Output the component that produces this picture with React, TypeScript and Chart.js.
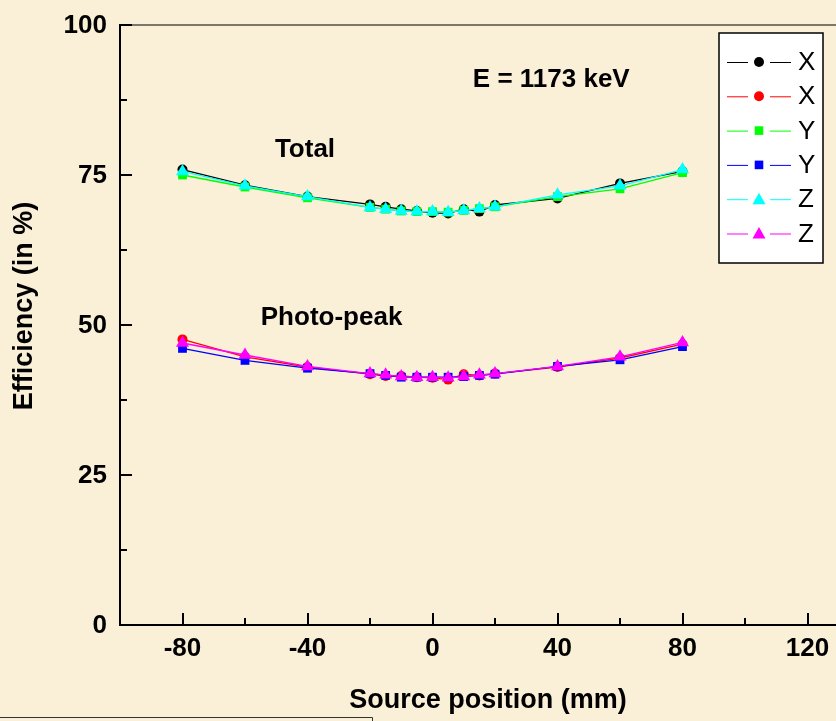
import { useEffect, useRef } from "react";
import { Chart, registerables } from "chart.js";

Chart.register(...registerables);

// Source positions along the detector axis (mm)
const positions = [-80, -60, -40, -20, -15, -10, -5, 0, 5, 10, 15, 20, 40, 60, 80];

// Total efficiency (%) for scans along X, Y and Z
const totalX = [75.9, 73.3, 71.4, 70.1, 69.7, 69.3, 69.0, 68.7, 68.6, 69.3, 68.9, 70.0, 71.1, 73.6, 75.6];
const totalY = [75.0, 73.0, 71.2, 69.6, 69.3, 69.0, 68.9, 68.9, 68.8, 69.1, 69.4, 69.7, 71.4, 72.7, 75.4];
const totalZ = [75.6, 73.2, 71.4, 69.6, 69.3, 69.0, 68.9, 68.9, 68.8, 69.1, 69.4, 69.7, 71.7, 73.2, 75.9];

// Photo-peak efficiency (%) for scans along X, Y and Z
const photoX = [47.6, 44.7, 43.0, 41.8, 41.5, 41.5, 41.3, 41.2, 40.9, 41.8, 41.6, 41.9, 43.0, 44.5, 46.8];
const photoY = [46.1, 44.1, 42.8, 41.9, 41.6, 41.3, 41.3, 41.3, 41.3, 41.4, 41.6, 41.8, 43.1, 44.2, 46.4];
const photoZ = [47.0, 45.0, 43.1, 41.9, 41.7, 41.4, 41.3, 41.3, 41.2, 41.4, 41.7, 41.9, 43.1, 44.7, 47.1];

// Axis ticks
const xMajorTicks = [-80, -40, 0, 40, 80, 120];
const xMinorTicks = [-60, -20, 20, 60, 100];
const yMajorTicks = [0, 25, 50, 75, 100];
const yMinorTicks = [12.5, 37.5, 62.5, 87.5];

// Legend entries (label, colour, marker)
const legendLabels = ["X", "X", "Y", "Y", "Z", "Z"];
const legendColors = ["#000000", "#ff0000", "#00ff00", "#0000ff", "#00ffff", "#ff00ff"];
const legendMarkers = ["circle", "circle", "rect", "rect", "triangle", "triangle"];

const FONT = '"Liberation Sans", Arial, Helvetica, sans-serif';
const BG = "#faefd7";

function toPoints(values: number[]) {
  return positions.map((x, i) => ({ x, y: values[i] }));
}

function makeSet(label: string, values: number[], color: string, marker: string, order: number) {
  const radius = marker === "circle" ? 5 : marker === "rect" ? 6.2 : 7.5;
  return {
    label,
    data: toPoints(values),
    borderColor: color,
    backgroundColor: color,
    borderWidth: 1.3,
    pointStyle: marker,
    pointRadius: radius,
    pointBackgroundColor: color,
    pointBorderColor: color,
    pointBorderWidth: 0,
    tension: 0,
    order,
  };
}

function drawMarker(ctx: CanvasRenderingContext2D, kind: string, x: number, y: number, color: string) {
  ctx.fillStyle = color;
  ctx.beginPath();
  if (kind === "circle") {
    ctx.arc(x, y, 5, 0, Math.PI * 2);
  } else if (kind === "rect") {
    ctx.rect(x - 4.3, y - 4.3, 8.6, 8.6);
  } else {
    ctx.moveTo(x, y - 6.5);
    ctx.lineTo(x + 6.5, y + 5);
    ctx.lineTo(x - 6.5, y + 5);
    ctx.closePath();
  }
  ctx.fill();
}

const framePlugin = {
  id: "frame",
  beforeDraw(chart: any) {
    const ctx = chart.ctx as CanvasRenderingContext2D;
    ctx.save();
    ctx.fillStyle = BG;
    ctx.fillRect(0, 0, chart.width, chart.height);
    ctx.restore();
  },
  afterDraw(chart: any) {
    const ctx = chart.ctx as CanvasRenderingContext2D;
    const xs = chart.scales.x;
    const ys = chart.scales.y;
    const { left, right, top, bottom } = chart.chartArea;
    ctx.save();

    // frame: top border and the two axes
    ctx.strokeStyle = "#000";
    ctx.lineWidth = 1.2;
    ctx.beginPath();
    ctx.moveTo(left, top);
    ctx.lineTo(right, top);
    ctx.stroke();
    ctx.lineWidth = 2;
    ctx.beginPath();
    ctx.moveTo(left, top - 1);
    ctx.lineTo(left, bottom);
    ctx.lineTo(right, bottom);
    ctx.stroke();

    // inward ticks
    for (const v of yMajorTicks) {
      const py = Math.round(ys.getPixelForValue(v));
      ctx.beginPath();
      ctx.moveTo(left, py);
      ctx.lineTo(left + 12, py);
      ctx.stroke();
    }
    for (const v of yMinorTicks) {
      const py = Math.round(ys.getPixelForValue(v));
      ctx.beginPath();
      ctx.moveTo(left, py);
      ctx.lineTo(left + 7, py);
      ctx.stroke();
    }
    for (const v of xMajorTicks) {
      const px = Math.round(xs.getPixelForValue(v));
      ctx.beginPath();
      ctx.moveTo(px, bottom);
      ctx.lineTo(px, bottom - 12);
      ctx.stroke();
    }
    for (const v of xMinorTicks) {
      const px = Math.round(xs.getPixelForValue(v));
      ctx.beginPath();
      ctx.moveTo(px, bottom);
      ctx.lineTo(px, bottom - 7);
      ctx.stroke();
    }

    // tick labels
    ctx.fillStyle = "#000";
    ctx.font = `bold 26px ${FONT}`;
    ctx.textAlign = "right";
    ctx.textBaseline = "middle";
    for (const v of yMajorTicks) {
      ctx.fillText(String(v), left - 13, ys.getPixelForValue(v) + 1);
    }
    ctx.textAlign = "center";
    for (const v of xMajorTicks) {
      ctx.fillText(String(v), xs.getPixelForValue(v), bottom + 24);
    }

    // in-plot annotations
    ctx.fillText("E = 1173 keV", xs.getPixelForValue(38), ys.getPixelForValue(90.8));
    ctx.fillText("Total", xs.getPixelForValue(-40.8), ys.getPixelForValue(79.2));
    ctx.fillText("Photo-peak", xs.getPixelForValue(-32.3), ys.getPixelForValue(51.2));

    // axis titles
    ctx.font = `bold 27px ${FONT}`;
    ctx.fillText("Source position (mm)", 488, 701);
    ctx.save();
    ctx.translate(25, 306);
    ctx.rotate(-Math.PI / 2);
    ctx.fillText("Efficiency (in %)", 0, 0);
    ctx.restore();

    // legend box
    ctx.fillStyle = "#ffffff";
    ctx.fillRect(719, 33, 104, 230);
    ctx.strokeStyle = "#000";
    ctx.lineWidth = 1.5;
    ctx.strokeRect(719, 33, 104, 230);
    ctx.font = `26px ${FONT}`;
    ctx.textAlign = "left";
    for (let i = 0; i < legendLabels.length; i++) {
      const ry = 62 + i * 34.3;
      const c = legendColors[i];
      ctx.strokeStyle = c;
      ctx.lineWidth = 1;
      ctx.beginPath();
      ctx.moveTo(727, ry + 0.5);
      ctx.lineTo(748, ry + 0.5);
      ctx.moveTo(770, ry + 0.5);
      ctx.lineTo(791, ry + 0.5);
      ctx.stroke();
      drawMarker(ctx, legendMarkers[i], 759, ry, c);
      ctx.fillStyle = "#000";
      ctx.fillText(legendLabels[i], 798, ry + 1);
    }

    // edge of the caption panel below the plot
    ctx.strokeStyle = "#333";
    ctx.lineWidth = 1;
    ctx.beginPath();
    ctx.moveTo(0, 717.5);
    ctx.lineTo(372.5, 717.5);
    ctx.lineTo(372.5, 721);
    ctx.stroke();

    ctx.restore();
  },
};

export default function App() {
  const canvasRef = useRef<HTMLCanvasElement | null>(null);

  useEffect(() => {
    const canvas = canvasRef.current;
    if (!canvas) return;
    const chart = new Chart(canvas, {
      type: "line",
      data: {
        datasets: [
          makeSet("X", totalX, "#000000", "circle", 3),
          makeSet("X", photoX, "#ff0000", "circle", 3),
          makeSet("Y", totalY, "#00ff00", "rect", 2),
          makeSet("Y", photoY, "#0000ff", "rect", 2),
          makeSet("Z", totalZ, "#00ffff", "triangle", 1),
          makeSet("Z", photoZ, "#ff00ff", "triangle", 1),
        ] as any,
      },
      options: {
        animation: false,
        responsive: false,
        devicePixelRatio: 1,
        layout: { padding: { left: 120, top: 25, right: 10, bottom: 96 } },
        plugins: { legend: { display: false }, tooltip: { enabled: false } },
        scales: {
          x: { type: "linear", min: -100, max: 140, display: false },
          y: { type: "linear", min: 0, max: 100, display: false },
        },
      },
      plugins: [framePlugin],
    });
    return () => chart.destroy();
  }, []);

  return (
    <div style={{ position: "fixed", left: 0, top: 0, width: 836, height: 721, overflow: "hidden", background: BG }}>
      <canvas ref={canvasRef} width={880} height={721} style={{ display: "block" }} />
    </div>
  );
}
